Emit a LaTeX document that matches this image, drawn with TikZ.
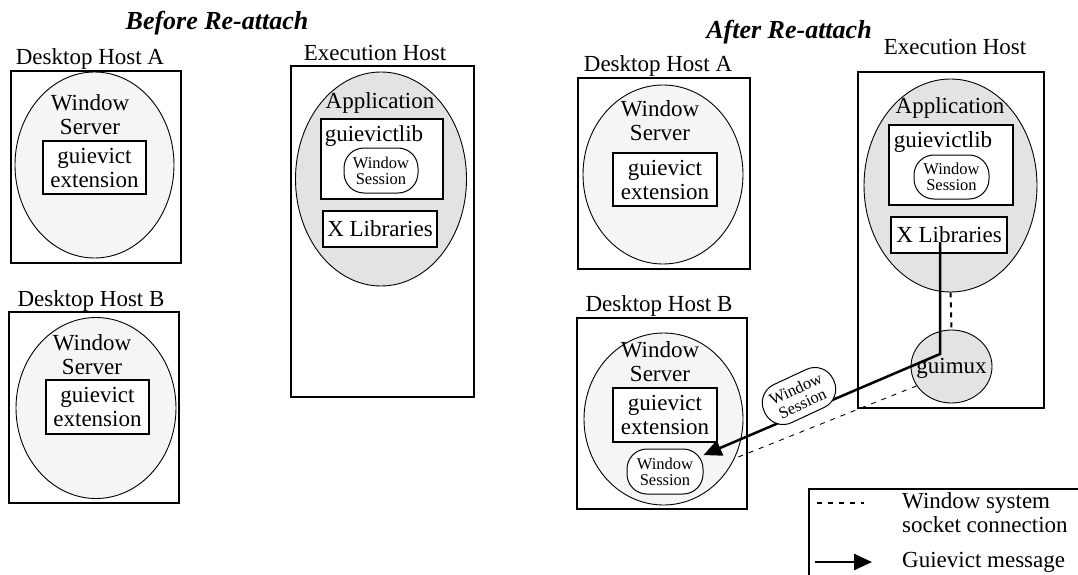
\documentclass[tikz,border=0pt]{standalone}
\usepackage{fontspec}
\setmainfont{Liberation Serif}
\usetikzlibrary{arrows.meta,shapes.geometric}

\definecolor{serverfill}{gray}{0.96}
\definecolor{appfill}{gray}{0.89}

\tikzset{
  sz/.style 2 args={minimum width=#1pt,minimum height=#2pt},
  txt/.style={inner sep=0pt,font=\fontsize{23}{24}\selectfont,align=center},
  ttl/.style={inner sep=0pt,font=\fontsize{26}{28}\selectfont\bfseries\itshape},
  hostbox/.style={draw,line width=2pt,inner sep=0pt},
  server/.style={ellipse,draw,line width=0.9pt,fill=serverfill,inner sep=0pt},
  appell/.style={ellipse,draw,line width=0.9pt,fill=appfill,inner sep=0pt},
  inbox/.style={draw,line width=2pt,fill=white,inner sep=0pt,font=\fontsize{23}{24}\selectfont,align=center},
  sess/.style={draw,line width=1pt,fill=white,rounded corners=20pt,inner sep=0pt,
               font=\fontsize{16.5}{16}\selectfont,align=center},
  msg/.style={line width=2.5pt,-{Triangle[length=18pt,width=16pt]}},
  socket/.style={line width=0.9pt,dash pattern=on 5pt off 6pt},
  sockv/.style={line width=2pt,dash pattern=on 5pt off 5pt},
}

\begin{document}
\begin{tikzpicture}[x=1pt,y=-1pt]
\useasboundingbox (0,0) rectangle (1078,575);

% ---------- Before re-attach ----------
\node[ttl] (tBefore) at (217,23) {Before Re-attach};

\node[txt] (labA1) at (90,59) {Desktop Host A};
\node[hostbox,sz={170}{192}] (boxA1) at (96,167) {};
\node[server,sz={159}{186}] (ellA1) at (94.5,165) {};
\node[txt] (wsA1) at (90,115) {Window\\Server};
\node[inbox,sz={103}{53}] (extA1) at (94.5,167.5) {guievict\\extension};

\node[txt] (labB1) at (91,301) {Desktop Host B};
\node[hostbox,sz={170}{191}] (boxB1) at (94,407.5) {};
\node[server,sz={160}{181}] (ellB1) at (96,408) {};
\node[txt] (wsB1) at (92,355) {Window\\Server};
\node[inbox,sz={103}{54}] (extB1) at (97.5,407) {guievict\\extension};

\node[txt] (labE1) at (375,53) {Execution Host};
\node[hostbox,sz={183}{331}] (boxE1) at (382.5,231.5) {};
\node[appell,sz={171}{214}] (app1) at (381,179) {};
\node[txt] (appt1) at (380,103) {Application};
\node[inbox,sz={122}{80}] (lib1) at (382,159) {};
\node[txt] (libt1) at (374,136) {guievictlib};
\node[sess,sz={74}{45}] (sess1) at (381,170.5) {Window\\Session};
\node[inbox,sz={114}{36}] (xlib1) at (380,229) {X Libraries};

% ---------- After re-attach ----------
\node[ttl] (tAfter) at (789,32) {After Re-attach};

\node[txt] (labA2) at (658,66) {Desktop Host A};
\node[hostbox,sz={172}{191}] (boxA2) at (664,173.5) {};
\node[server,sz={160}{179}] (ellA2) at (663,174.5) {};
\node[txt] (wsA2) at (660,121) {Window\\Server};
\node[inbox,sz={104}{53}] (extA2) at (665,179.5) {guievict\\extension};

\node[txt] (labE2) at (955,47) {Execution Host};
\node[hostbox,sz={186}{336}] (boxE2) at (951,240) {};
\node[appell,sz={173}{213}] (app2) at (950.5,185.5) {};
\node[txt] (appt2) at (950,108) {Application};
\node[inbox,sz={124}{80}] (lib2) at (951,165) {};
\node[txt] (libt2) at (943,142) {guievictlib};
\node[sess,sz={75}{44}] (sess2) at (951.5,177) {Window\\Session};
\node[inbox,sz={116}{36}] (xlib2) at (949,235) {X Libraries};
\node[appell,sz={81}{73}] (guimux) at (951.5,366.5) {};
\node[txt] (guimuxt) at (951.5,368) {guimux};

\node[txt] (labB2) at (659,306) {Desktop Host B};
\node[hostbox,sz={170}{191}] (boxB2) at (662,413.5) {};
\node[server,sz={159}{172}] (ellB2) at (663.5,419) {};
\node[txt] (wsB2) at (660,361.5) {Window\\Server};
\node[inbox,sz={104}{54}] (extB2) at (665,415) {guievict\\extension};
\node[sess,sz={76}{45}] (sessB2) at (665,471.5) {Window\\Session};

% window system socket connections
\draw[sockv] (app2.south) -- (guimux.north);
\draw[socket] (guimux.209) -- (ellB2.-29);

% guievict message carrying the window session
\coordinate (msgStart) at (940,242);
\coordinate (msgBend) at (940,354);
\draw[msg] (msgStart) -- (msgBend) -- (sessB2);
\node[sess,sz={76}{42},rotate=25] (sessMsg) at (799,396) {Window\\Session};

% ---------- Legend ----------
\begin{scope}
  \clip (0,0) rectangle (1078,575);
  \node[hostbox,sz={300}{120},anchor=north west] (legend) at (808,488) {};
\end{scope}
\coordinate (legD1) at (817,503);
\coordinate (legD2) at (864,503);
\draw[socket,line width=1.2pt] (legD1) -- (legD2);
\node[txt,anchor=west,align=left] (legT1) at (902,513) {Window system\\socket connection};
\coordinate (legA1) at (815,562);
\coordinate (legA2) at (872,562);
\draw[msg] (legA1) -- (legA2);
\node[txt,anchor=west] (legT2) at (902,562) {Guievict message};
\end{tikzpicture}
\end{document}
